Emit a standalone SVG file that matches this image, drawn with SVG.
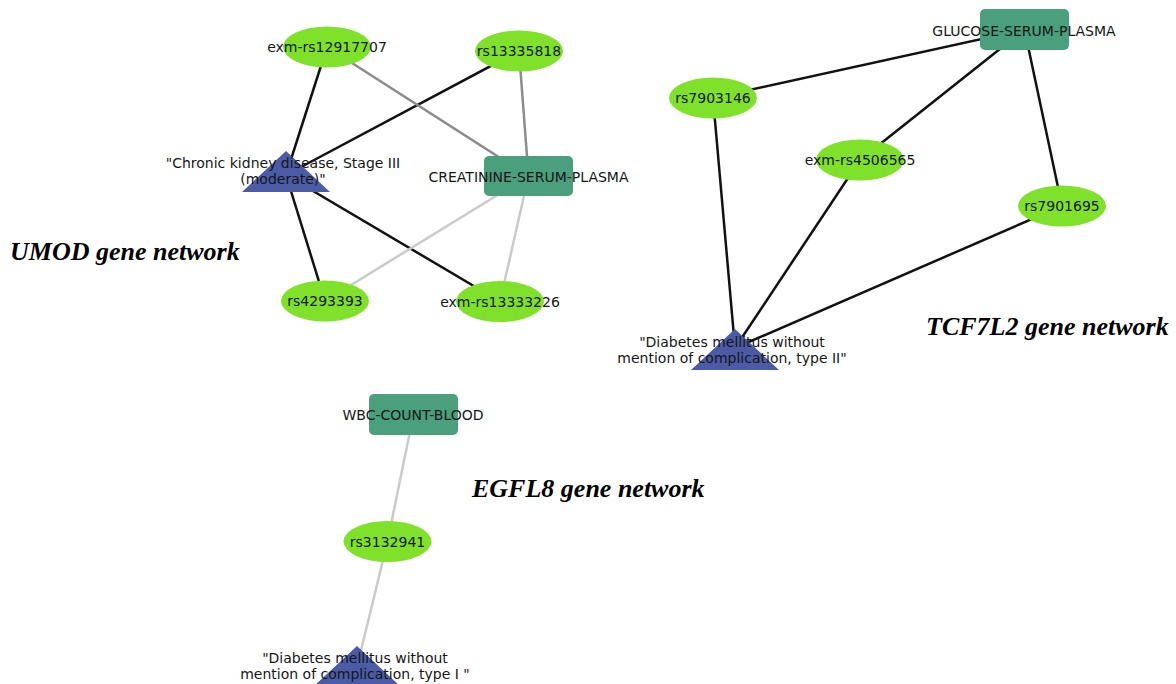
<svg xmlns="http://www.w3.org/2000/svg" width="1176" height="684" viewBox="0 0 1176 684">
<style>
.e{stroke-width:2.5;fill:none}
.k{stroke:#111}
.g{stroke:#8c8c8c}
.l{stroke:#cacaca}
.snp{fill:#7fe12a}
.trait{fill:#4a9f7c}
.dis{fill:#4b5ba6}
.lb{font-family:"DejaVu Sans",sans-serif;font-size:14px;fill:#161616;text-anchor:middle}
.title{font-family:"Liberation Serif",serif;font-size:26px;font-weight:bold;font-style:italic;fill:#000}
</style>
<rect width="1176" height="684" fill="#fff"/>
<g id="connectors">
<line class="e k" x1="327" y1="47" x2="286" y2="175"/>
<line class="e k" x1="519" y1="51" x2="286" y2="175"/>
<line class="e g" x1="327" y1="47" x2="528.5" y2="176"/>
<line class="e g" x1="519" y1="51" x2="528.5" y2="176"/>
<line class="e k" x1="286" y1="175" x2="325" y2="301"/>
<line class="e k" x1="286" y1="175" x2="500" y2="301.5"/>
<line class="e l" x1="528.5" y1="176" x2="325" y2="301"/>
<line class="e l" x1="528.5" y1="176" x2="500" y2="301.5"/>
<line class="e k" x1="1024.5" y1="29.5" x2="713" y2="98"/>
<line class="e k" x1="1024.5" y1="29.5" x2="860" y2="160"/>
<line class="e k" x1="1024.5" y1="29.5" x2="1062" y2="206"/>
<line class="e k" x1="713" y1="98" x2="735" y2="348"/>
<line class="e k" x1="860" y1="160" x2="735" y2="348"/>
<line class="e k" x1="1062" y1="206" x2="735" y2="348"/>
<line class="e l" x1="413.5" y1="414.5" x2="387.5" y2="541.5"/>
<line class="e l" x1="387.5" y1="541.5" x2="357" y2="667"/>
</g>
<g id="n-exm-rs12917707"><ellipse class="snp" cx="327" cy="47" rx="44" ry="20.5"/><text class="lb" x="327" y="52">exm-rs12917707</text></g>
<g id="n-rs13335818"><ellipse class="snp" cx="519" cy="51" rx="44" ry="20.5"/><text class="lb" x="519" y="56">rs13335818</text></g>
<g id="n-ckd"><polygon class="dis" points="286,151 242,192 330,192"/><text class="lb" x="283" y="168">"Chronic kidney disease, Stage III</text><text class="lb" x="283" y="184">(moderate)"</text></g>
<g id="n-creatinine"><rect class="trait" x="484" y="156" width="89" height="40" rx="5"/><text class="lb" x="528.5" y="182">CREATININE-SERUM-PLASMA</text></g>
<g id="n-rs4293393"><ellipse class="snp" cx="325" cy="301" rx="44" ry="20.5"/><text class="lb" x="325" y="306">rs4293393</text></g>
<g id="n-exm-rs13333226"><ellipse class="snp" cx="500" cy="301.5" rx="44" ry="20.5"/><text class="lb" x="500" y="307">exm-rs13333226</text></g>
<g id="n-glucose"><rect class="trait" x="980" y="9" width="89" height="41" rx="5"/><text class="lb" x="1024" y="36">GLUCOSE-SERUM-PLASMA</text></g>
<g id="n-rs7903146"><ellipse class="snp" cx="713" cy="98" rx="44" ry="20.5"/><text class="lb" x="713" y="103">rs7903146</text></g>
<g id="n-exm-rs4506565"><ellipse class="snp" cx="860" cy="160" rx="44" ry="20.5"/><text class="lb" x="860" y="165">exm-rs4506565</text></g>
<g id="n-rs7901695"><ellipse class="snp" cx="1062" cy="206" rx="44" ry="20.5"/><text class="lb" x="1062" y="211">rs7901695</text></g>
<g id="n-t2d"><polygon class="dis" points="735,329 691,370 779,370"/><text class="lb" x="732" y="347">"Diabetes mellitus without</text><text class="lb" x="732" y="363">mention of complication, type II"</text></g>
<g id="n-wbc"><rect class="trait" x="369" y="394" width="89" height="41" rx="5"/><text class="lb" x="413" y="420">WBC-COUNT-BLOOD</text></g>
<g id="n-rs3132941"><ellipse class="snp" cx="387.5" cy="541.5" rx="44" ry="20.5"/><text class="lb" x="387.5" y="546.5">rs3132941</text></g>
<g id="n-t1d"><polygon class="dis" points="357,646 313,687 401,687"/><text class="lb" x="355" y="663">"Diabetes mellitus without</text><text class="lb" x="355" y="679">mention of complication, type I "</text></g>
<g id="titles">
<text class="title" x="10" y="260">UMOD gene network</text>
<text class="title" x="926" y="335">TCF7L2 gene network</text>
<text class="title" x="472" y="497">EGFL8 gene network</text>
</g>
</svg>
